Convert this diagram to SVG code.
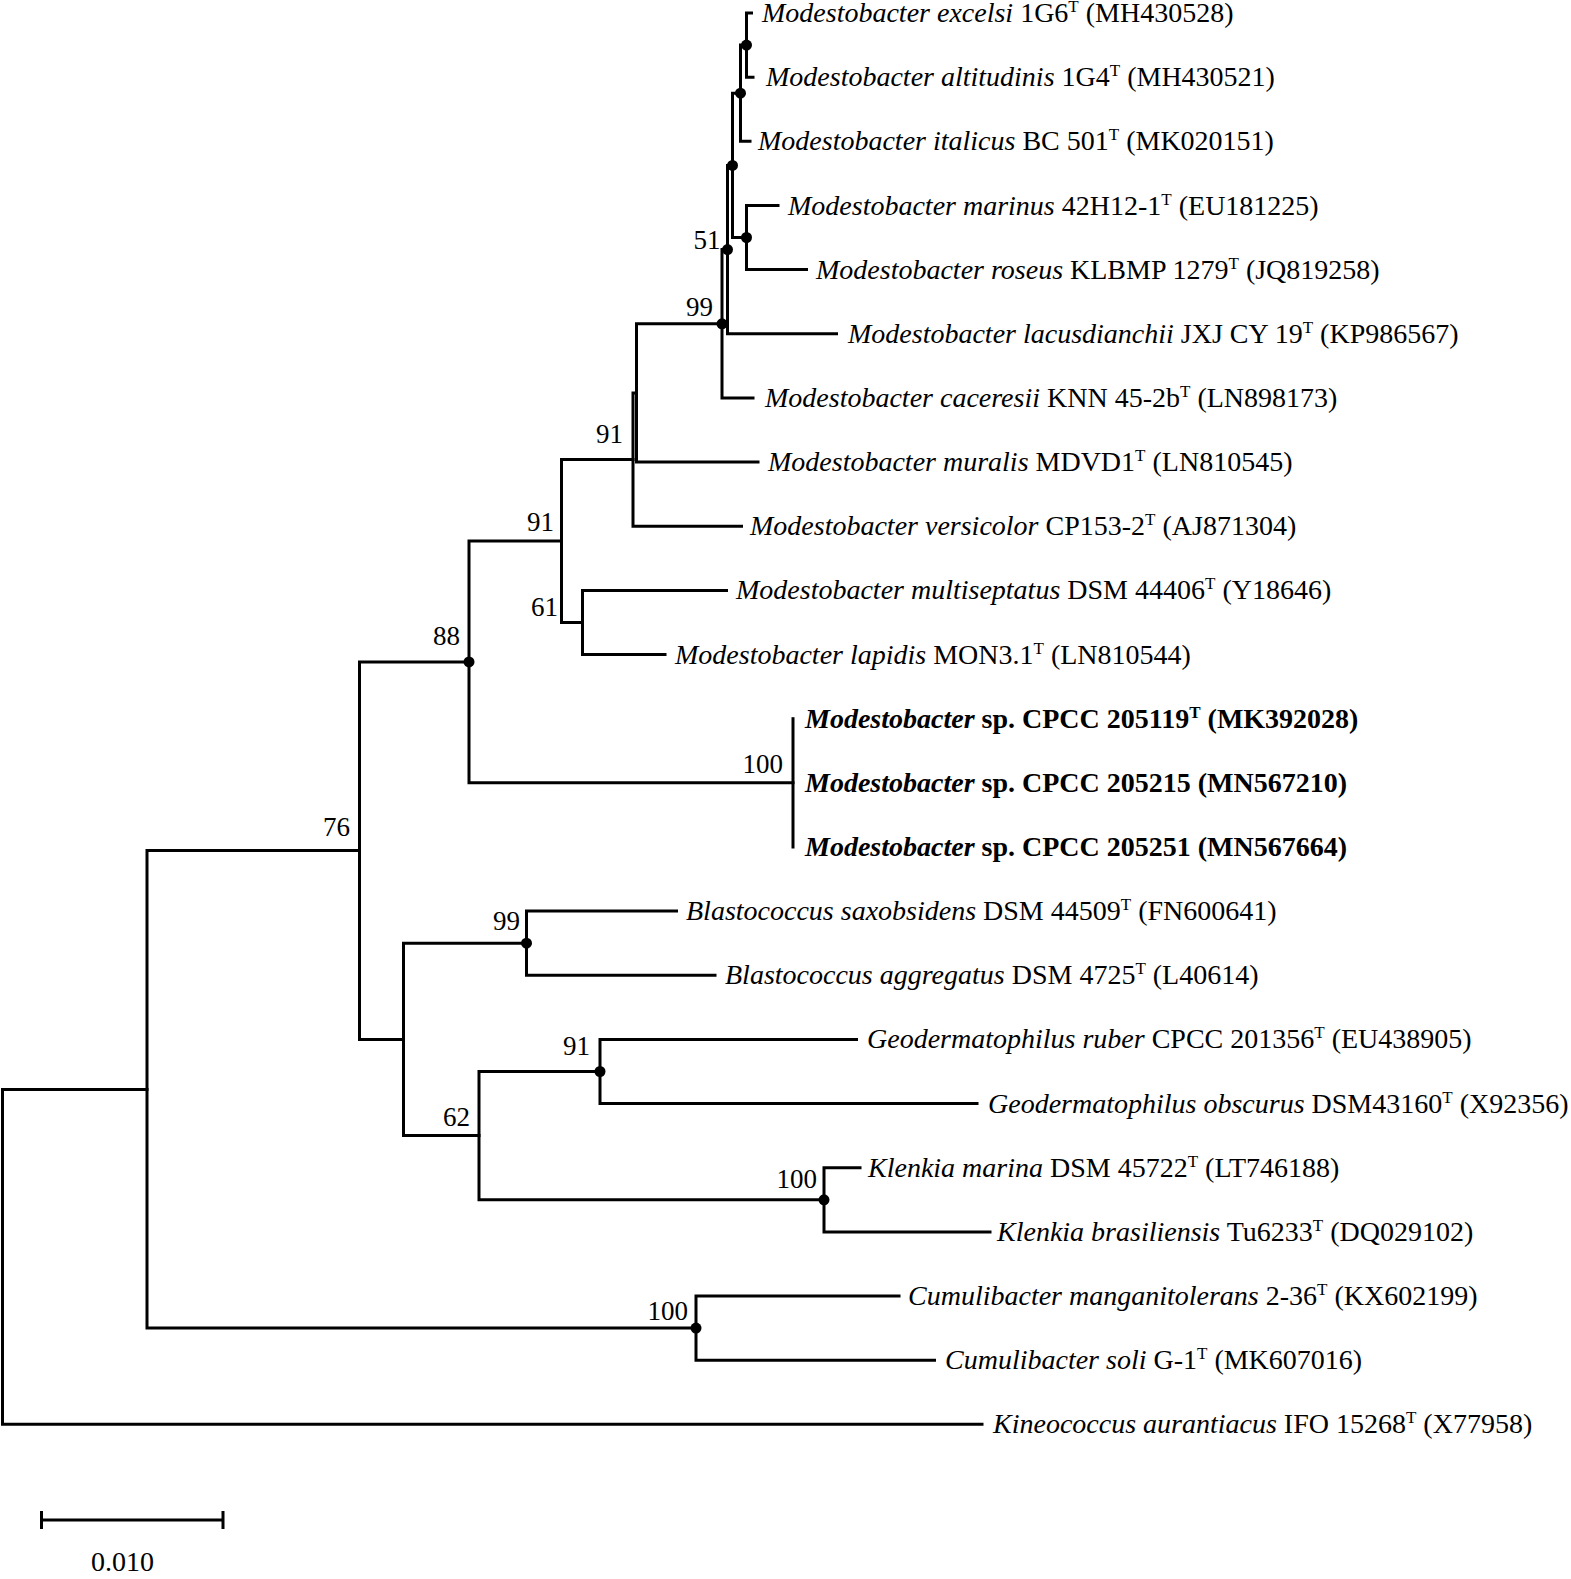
<svg xmlns="http://www.w3.org/2000/svg" width="1571" height="1579" viewBox="0 0 1571 1579">
<style>
.br{fill:none;stroke:#000;stroke-width:3;stroke-linecap:square}
.lf{font-family:"Liberation Serif","Times New Roman",serif;font-size:28px;fill:#000}
.it{font-style:italic}
.bd{font-weight:bold}
.sp{font-size:17px}
.bs{font-family:"Liberation Serif","Times New Roman",serif;font-size:27px;fill:#000;text-anchor:end}
.dot{fill:#000}
</style>
<rect width="1571" height="1579" fill="#fff"/>
<g id="connectors">
<path class="br" d="M2.5,1089.4 V1424.3 H982 M2.5,1089.4 H147"/>
<path class="br" d="M147,850.6 V1328.1 M147,850.6 H359.5 M147,1328.1 H696"/>
<path class="br" d="M696,1296 V1360.2 M696,1296 H899 M696,1360.2 H934.5"/>
<path class="br" d="M359.5,661.9 V1039.4 M359.5,661.9 H469 M359.5,1039.4 H403.5"/>
<path class="br" d="M403.5,943.2 V1135.6 M403.5,943.2 H526.5 M403.5,1135.6 H479"/>
<path class="br" d="M526.5,911.1 V975.3 M526.5,911.1 H676.5 M526.5,975.3 H715"/>
<path class="br" d="M479,1071.5 V1199.8 M479,1071.5 H600 M479,1199.8 H824"/>
<path class="br" d="M600,1039.4 V1103.6 M600,1039.4 H856.5 M600,1103.6 H977"/>
<path class="br" d="M824,1167.7 V1231.9 M824,1167.7 H860 M824,1231.9 H990"/>
<path class="br" d="M469,541 V782.8 M469,541 H561.5 M469,782.8 H793"/>
<path class="br" d="M793,718.7 V847"/>
<path class="br" d="M561.5,459.6 V622.4 M561.5,459.6 H633 M561.5,622.4 H582.5"/>
<path class="br" d="M582.5,590.4 V654.5 M582.5,590.4 H726.5 M582.5,654.5 H665"/>
<path class="br" d="M633,392.9 V526.2 M633,392.9 H636.5 M633,526.2 H741.5"/>
<path class="br" d="M636.5,323.8 V462.1 M636.5,323.8 H722 M636.5,462.1 H758"/>
<path class="br" d="M722,249.6 V397.9 M722,249.6 H727.5 M722,397.9 H753"/>
<path class="br" d="M727.5,165.4 V333.8 M727.5,165.4 H732.5 M727.5,333.8 H836.5"/>
<path class="br" d="M732.5,93.2 V237.5 M732.5,93.2 H740.5 M732.5,237.5 H746.5"/>
<path class="br" d="M740.5,45.1 V141.3 M740.5,45.1 H746.5 M740.5,141.3 H750"/>
<path class="br" d="M746.5,13 V77.2 M746.5,13 H751.5 M746.5,77.2 H753"/>
<path class="br" d="M746.5,205.5 V269.6 M746.5,205.5 H778 M746.5,269.6 H806.5"/>
</g>
<g id="internal-nodes">
<g id="n-excelsi-altitudinis"><circle class="dot" cx="746.5" cy="45.1" r="5.5"/></g>
<g id="n-italicus"><circle class="dot" cx="740.5" cy="93.2" r="5.5"/></g>
<g id="n-a"><circle class="dot" cx="732.5" cy="165.4" r="5.5"/></g>
<g id="n-marinus-roseus"><circle class="dot" cx="746.5" cy="237.5" r="5.5"/></g>
<g id="n51"><circle class="dot" cx="727.5" cy="249.6" r="5.5"/><text class="bs" x="720.5" y="249">51</text></g>
<g id="n99a"><circle class="dot" cx="722" cy="323.8" r="5.5"/><text class="bs" x="713" y="316">99</text></g>
<g id="n91a"><text class="bs" x="623" y="443">91</text></g>
<g id="n91b"><text class="bs" x="554" y="531">91</text></g>
<g id="n61"><text class="bs" x="558" y="616">61</text></g>
<g id="n88"><circle class="dot" cx="469" cy="661.9" r="5.5"/><text class="bs" x="460" y="645">88</text></g>
<g id="n100a"><text class="bs" x="783" y="773">100</text></g>
<g id="n76"><text class="bs" x="350" y="836">76</text></g>
<g id="n99b"><circle class="dot" cx="526.5" cy="943.2" r="5.5"/><text class="bs" x="520" y="930">99</text></g>
<g id="n91c"><circle class="dot" cx="600" cy="1071.5" r="5.5"/><text class="bs" x="590" y="1055">91</text></g>
<g id="n62"><text class="bs" x="470" y="1126">62</text></g>
<g id="n100b"><circle class="dot" cx="824" cy="1199.8" r="5.5"/><text class="bs" x="817" y="1188">100</text></g>
<g id="n100c"><circle class="dot" cx="696" cy="1328.1" r="5.5"/><text class="bs" x="688" y="1320">100</text></g>
</g>
<g id="leaves">
<g id="leaf-excelsi"><text class="lf" x="762" y="22"><tspan class="it">Modestobacter excelsi</tspan> 1G6<tspan class="sp" dy="-10">T</tspan><tspan dy="10"> (MH430528)</tspan></text></g>
<g id="leaf-altitudinis"><text class="lf" x="766" y="86.2"><tspan class="it">Modestobacter altitudinis</tspan> 1G4<tspan class="sp" dy="-10">T</tspan><tspan dy="10"> (MH430521)</tspan></text></g>
<g id="leaf-italicus"><text class="lf" x="758" y="150.3"><tspan class="it">Modestobacter italicus</tspan> BC 501<tspan class="sp" dy="-10">T</tspan><tspan dy="10"> (MK020151)</tspan></text></g>
<g id="leaf-marinus"><text class="lf" x="788" y="214.5"><tspan class="it">Modestobacter marinus</tspan> 42H12-1<tspan class="sp" dy="-10">T</tspan><tspan dy="10"> (EU181225)</tspan></text></g>
<g id="leaf-roseus"><text class="lf" x="816" y="278.6"><tspan class="it">Modestobacter roseus</tspan> KLBMP 1279<tspan class="sp" dy="-10">T</tspan><tspan dy="10"> (JQ819258)</tspan></text></g>
<g id="leaf-lacusdianchii"><text class="lf" x="848" y="342.8"><tspan class="it">Modestobacter lacusdianchii</tspan> JXJ CY 19<tspan class="sp" dy="-10">T</tspan><tspan dy="10"> (KP986567)</tspan></text></g>
<g id="leaf-caceresii"><text class="lf" x="765" y="406.9"><tspan class="it">Modestobacter caceresii</tspan> KNN 45-2b<tspan class="sp" dy="-10">T</tspan><tspan dy="10"> (LN898173)</tspan></text></g>
<g id="leaf-muralis"><text class="lf" x="768" y="471.1"><tspan class="it">Modestobacter muralis</tspan> MDVD1<tspan class="sp" dy="-10">T</tspan><tspan dy="10"> (LN810545)</tspan></text></g>
<g id="leaf-versicolor"><text class="lf" x="750" y="535.2"><tspan class="it">Modestobacter versicolor</tspan> CP153-2<tspan class="sp" dy="-10">T</tspan><tspan dy="10"> (AJ871304)</tspan></text></g>
<g id="leaf-multiseptatus"><text class="lf" x="736" y="599.4"><tspan class="it">Modestobacter multiseptatus</tspan> DSM 44406<tspan class="sp" dy="-10">T</tspan><tspan dy="10"> (Y18646)</tspan></text></g>
<g id="leaf-lapidis"><text class="lf" x="675" y="663.5"><tspan class="it">Modestobacter lapidis</tspan> MON3.1<tspan class="sp" dy="-10">T</tspan><tspan dy="10"> (LN810544)</tspan></text></g>
<g id="leaf-cpcc205119"><text class="lf bd" x="805" y="727.7"><tspan class="it">Modestobacter</tspan> sp. CPCC 205119<tspan class="sp" dy="-10">T</tspan><tspan dy="10"> (MK392028)</tspan></text></g>
<g id="leaf-cpcc205215"><text class="lf bd" x="805" y="791.8"><tspan class="it">Modestobacter</tspan> sp. CPCC 205215 (MN567210)</text></g>
<g id="leaf-cpcc205251"><text class="lf bd" x="805" y="856"><tspan class="it">Modestobacter</tspan> sp. CPCC 205251 (MN567664)</text></g>
<g id="leaf-saxobsidens"><text class="lf" x="686" y="920.1"><tspan class="it">Blastococcus saxobsidens</tspan> DSM 44509<tspan class="sp" dy="-10">T</tspan><tspan dy="10"> (FN600641)</tspan></text></g>
<g id="leaf-aggregatus"><text class="lf" x="725" y="984.3"><tspan class="it">Blastococcus aggregatus</tspan> DSM 4725<tspan class="sp" dy="-10">T</tspan><tspan dy="10"> (L40614)</tspan></text></g>
<g id="leaf-ruber"><text class="lf" x="867" y="1048.4"><tspan class="it">Geodermatophilus ruber</tspan> CPCC 201356<tspan class="sp" dy="-10">T</tspan><tspan dy="10"> (EU438905)</tspan></text></g>
<g id="leaf-obscurus"><text class="lf" x="988" y="1112.6"><tspan class="it">Geodermatophilus obscurus</tspan> DSM43160<tspan class="sp" dy="-10">T</tspan><tspan dy="10"> (X92356)</tspan></text></g>
<g id="leaf-marina"><text class="lf" x="868" y="1176.7"><tspan class="it">Klenkia marina</tspan> DSM 45722<tspan class="sp" dy="-10">T</tspan><tspan dy="10"> (LT746188)</tspan></text></g>
<g id="leaf-brasiliensis"><text class="lf" x="997" y="1240.9"><tspan class="it">Klenkia brasiliensis</tspan> Tu6233<tspan class="sp" dy="-10">T</tspan><tspan dy="10"> (DQ029102)</tspan></text></g>
<g id="leaf-manganitolerans"><text class="lf" x="908" y="1305"><tspan class="it">Cumulibacter manganitolerans</tspan> 2-36<tspan class="sp" dy="-10">T</tspan><tspan dy="10"> (KX602199)</tspan></text></g>
<g id="leaf-soli"><text class="lf" x="945" y="1369.2"><tspan class="it">Cumulibacter soli</tspan> G-1<tspan class="sp" dy="-10">T</tspan><tspan dy="10"> (MK607016)</tspan></text></g>
<g id="leaf-kineococcus"><text class="lf" x="993" y="1433.3"><tspan class="it">Kineococcus aurantiacus</tspan> IFO 15268<tspan class="sp" dy="-10">T</tspan><tspan dy="10"> (X77958)</tspan></text></g>
</g>
<g id="scale-bar">
<path class="br" style="stroke-linecap:butt" d="M41.5,1520 H223 M41.5,1511 V1529 M223,1511 V1529"/>
<text class="lf" x="122.5" y="1571" text-anchor="middle">0.010</text>
</g>
</svg>
